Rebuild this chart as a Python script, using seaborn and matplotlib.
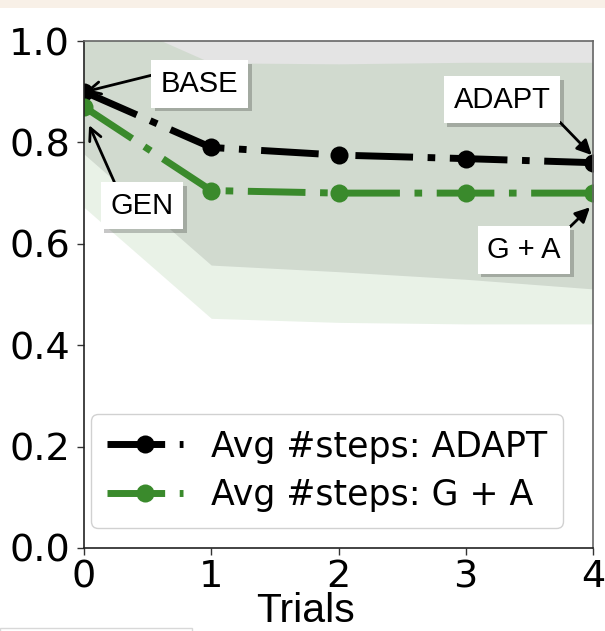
import numpy as np
import pandas as pd
import matplotlib
matplotlib.use("Agg")
import matplotlib.pyplot as plt
import matplotlib.patheffects as pe
from matplotlib.patches import Rectangle
import seaborn as sns

# ---- data ----
trials = [0, 1, 2, 3, 4]
adapt_mean = [0.90, 0.79, 0.775, 0.768, 0.76]
adapt_std = [0.123, 0.232, 0.23, 0.238, 0.249]
ga_mean = [0.87, 0.705, 0.70, 0.70, 0.70]
ga_std = [0.198, 0.252, 0.255, 0.258, 0.258]
series_labels = ["Avg #steps: ADAPT", "Avg #steps: G + A"]
yticks = [0.0, 0.2, 0.4, 0.6, 0.8, 1.0]

BLACK = "#000000"
GREEN = "#3a8a2c"

sns.set_style("ticks")
plt.rcParams["font.family"] = ["DejaVu Sans"]
plt.rcParams["font.sans-serif"] = ["DejaVu Sans"]
for k in ["text.color", "axes.labelcolor", "xtick.color", "ytick.color"]:
    plt.rcParams[k] = "black"

fig = plt.figure(figsize=(6.05, 6.31), dpi=100)
ax = fig.add_axes([84 / 605, 1 - 548 / 631, (593 - 84) / 605, (548 - 41) / 631])

df = pd.DataFrame({"Trials": trials, "adapt": adapt_mean, "ga": ga_mean})

# bands
a_m, a_s = np.array(adapt_mean), np.array(adapt_std)
g_m, g_s = np.array(ga_mean), np.array(ga_std)
ax.fill_between(trials, a_m - a_s, a_m + a_s, color=BLACK, alpha=0.105, lw=0)
ax.fill_between(trials, g_m - g_s, g_m + g_s, color=GREEN, alpha=0.11, lw=0)

dash = (8.3, 2.1, 1.1, 2.1)
for col, color, lab in [("adapt", BLACK, series_labels[0]), ("ga", GREEN, series_labels[1])]:
    sns.lineplot(data=df, x="Trials", y=col, ax=ax, color=color, lw=5,
                 marker="o", markersize=13, markeredgewidth=0, label=lab)
    ln = ax.lines[-1]
    ln.set_dashes(dash)
    ln.set_dash_capstyle("butt")

ax.set_xlim(0, 4)
ax.set_ylim(0, 1)
ax.set_xticks(trials)
ax.set_yticks(yticks)
ax.set_yticklabels([f"{v:.1f}" for v in yticks])
ax.set_xticklabels([str(t) for t in trials])
ax.tick_params(axis="both", labelsize=27.5, length=5, width=1, color="#333333",
               labelcolor="black", pad=5)
ax.tick_params(axis="x", pad=3)
for lab in ax.get_xticklabels() + ax.get_yticklabels():
    lab.set_fontfamily("DejaVu Sans")
for name, s in ax.spines.items():
    s.set_visible(True)
    s.set_color("#222222" if name in ("left", "bottom") else "#666666")
    s.set_linewidth(1.2)

ax.set_ylabel("")
ax.set_xlabel("Trials", fontsize=29.5, family=["Liberation Sans"], color="black")
ax.xaxis.label.set_va("baseline")
ax.xaxis.set_label_coords(0.435, -(622 - 548) / 507)

leg = ax.legend(loc="lower left", bbox_to_anchor=(0.014, 0.04), borderaxespad=0,
                prop={"family": "DejaVu Sans", "size": 25},
                handlelength=2.2, handletextpad=0.8,
                frameon=True, fancybox=True, framealpha=0.9, edgecolor="#cccccc",
                borderpad=0.45, labelspacing=0.42)
for t in leg.get_texts():
    t.set_color("black")

# annotations
def note(text, xytext, xy, relpos, style):
    an = ax.annotate(text, xy=xy, xytext=xytext, xycoords="data", textcoords="data",
                     ha="center", va="center", fontsize=21, family=["Liberation Sans"],
                     color="black",
                     bbox=dict(boxstyle="square,pad=0.33", fc="white", ec="none"),
                     arrowprops=dict(arrowstyle=style, lw=2, color="black",
                                     mutation_scale=22, relpos=relpos, shrinkA=0, shrinkB=0),
                     zorder=10)
    an.get_bbox_patch().set_path_effects([
        pe.withSimplePatchShadow(offset=(2.5, -2.5), shadow_rgbFace="black", alpha=0.22),
        pe.Normal()])
    return an

note("BASE", (0.91, 0.915), (0.01, 0.90), (0.0, 0.9), "->")
note("GEN", (0.456, 0.675), (0.04, 0.834), (0.13, 1.0), "->")
note("ADAPT", (3.285, 0.884), (3.99, 0.775), (1.0, 0.05), "-|>")
note("G + A", (3.458, 0.588), (3.976, 0.672), (1.0, 1.0), "-|>")

# screenshot framing details
fig.patches.append(Rectangle((0, 1 - 8 / 631), 1, 8 / 631, transform=fig.transFigure,
                             facecolor="#f8f0e7", edgecolor="none", zorder=-5))
fig.patches.append(Rectangle((0, -0.01), 192 / 605, (0.01 + 3.5 / 631), transform=fig.transFigure,
                             facecolor="white", edgecolor="#d8d8d8", lw=1, zorder=-5))

fig.savefig("out.png", dpi=100)
